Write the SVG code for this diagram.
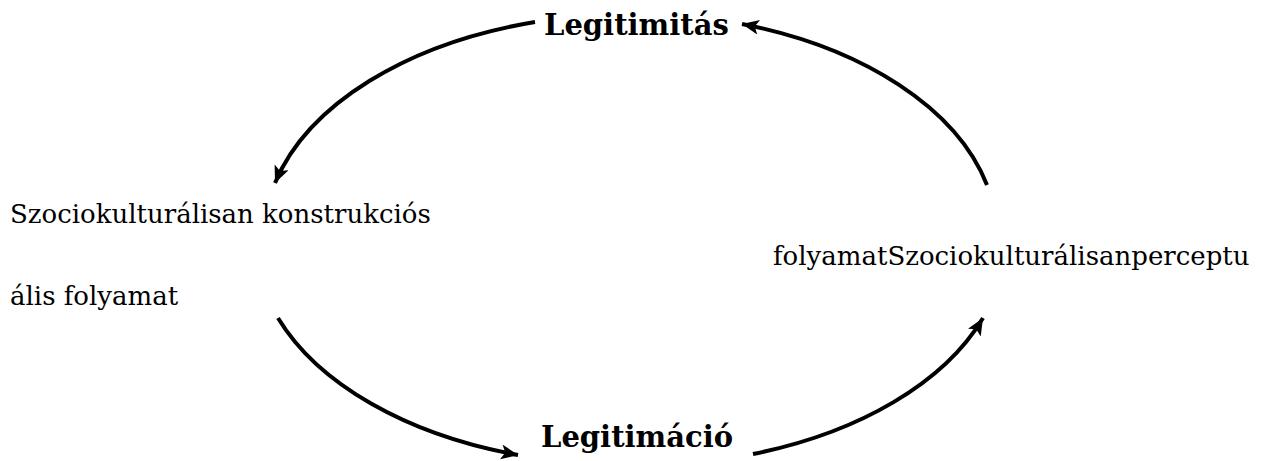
<svg xmlns="http://www.w3.org/2000/svg" width="1264" height="461" viewBox="0 0 1264 461">
<defs>
<style>
.lbl{font-family:"DejaVu Serif",serif;font-weight:bold;font-size:29px;fill:#000}
.txt{font-family:"DejaVu Serif",serif;font-size:26px;fill:#000}
.arc{fill:none;stroke:#000;stroke-width:4}
</style>
<marker id="ah" markerUnits="userSpaceOnUse" markerWidth="20" markerHeight="16" refX="17" refY="7.5" orient="auto">
<path d="M0,0 L17,7.5 L0,15 L4,7.5 Z" fill="#000"/>
</marker>
</defs>
<rect width="1264" height="461" fill="#fff"/>
<g id="connectors">
<path class="arc" d="M535,22 A367,224 0 0 0 275,183" marker-end="url(#ah)"/>
<path class="arc" d="M987,185 A367,224 0 0 0 742,24" marker-end="url(#ah)"/>
<path class="arc" d="M278,318 A367,224 0 0 0 518,455" marker-end="url(#ah)"/>
<path class="arc" d="M753,454 A367,224 0 0 0 983,318" marker-end="url(#ah)"/>
</g>
<g id="legitimitas"><text class="lbl" x="544" y="35">Legitimitás</text></g>
<g id="legitimacio"><text class="lbl" x="541" y="447">Legitimáció</text></g>
<g id="left-node">
<text class="txt" x="10" y="223">Szociokulturálisan konstrukciós</text>
<text class="txt" x="10" y="305">ális folyamat</text>
</g>
<g id="right-node"><text class="txt" x="773" y="265">folyamatSzociokulturálisanperceptu</text></g>
</svg>
